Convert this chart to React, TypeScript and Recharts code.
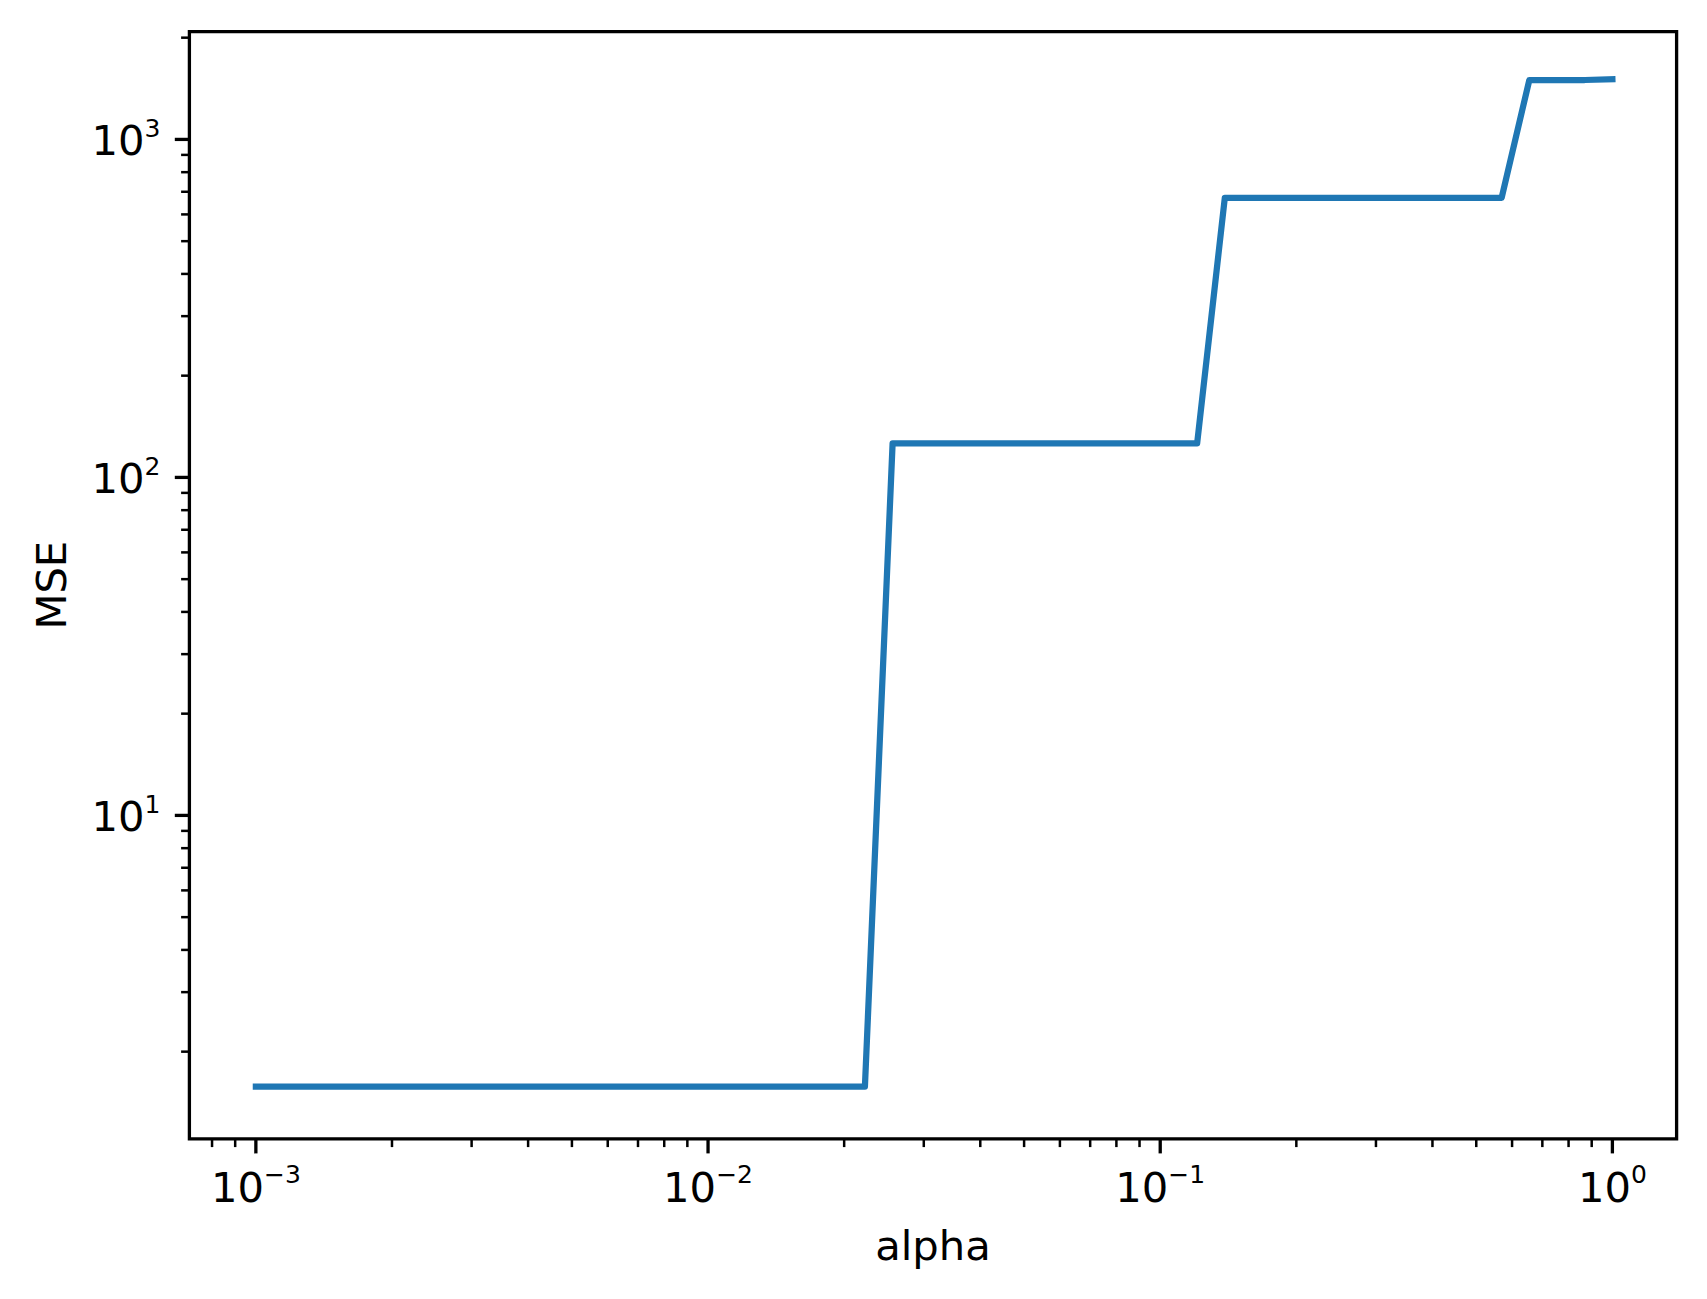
import React from 'react';
import { LineChart, Line, XAxis, YAxis, ReferenceArea } from 'recharts';

// alpha values (np.logspace(-3, 0, 50))
const alphas: number[] = [
  0.001, 0.0011514, 0.00132571, 0.00152642, 0.00175751, 0.00202359, 0.00232995, 0.0026827,
  0.00308884, 0.00355648, 0.00409492, 0.00471487, 0.00542868, 0.00625055, 0.00719686,
  0.00828643, 0.00954095, 0.01098541, 0.01264855, 0.01456348, 0.01676833, 0.01930698,
  0.02222996, 0.02559548, 0.02947052, 0.03393222, 0.0390694, 0.04498433, 0.05179475,
  0.05963623, 0.06866488, 0.07906043, 0.09102982, 0.10481131, 0.12067926, 0.13894955,
  0.15998587, 0.184207, 0.21209509, 0.24420531, 0.28117687, 0.32374575, 0.37275937,
  0.42919343, 0.49417134, 0.5689866, 0.65512856, 0.75431201, 0.86851137, 1.0,
];

// MSE
const mse: number[] = [
  1.575, 1.575, 1.575, 1.575, 1.575, 1.575, 1.575, 1.575, 1.575, 1.575,
  1.575, 1.575, 1.575, 1.575, 1.575, 1.575, 1.575, 1.575, 1.575, 1.575,
  1.575, 1.575, 1.575, 126, 126, 126, 126, 126, 126, 126,
  126, 126, 126, 126, 126, 672, 672, 672, 672, 672,
  672, 672, 672, 672, 672, 672, 1499, 1499, 1499, 1508,
];

const xTicks: number[] = [
  0.0008, 0.0009, 0.001, 0.002, 0.003, 0.004, 0.005, 0.006, 0.007, 0.008, 0.009,
  0.01, 0.02, 0.03, 0.04, 0.05, 0.06, 0.07, 0.08, 0.09,
  0.1, 0.2, 0.3, 0.4, 0.5, 0.6, 0.7, 0.8, 0.9, 1,
];
const yTicks: number[] = [
  2, 3, 4, 5, 6, 7, 8, 9, 10, 20, 30, 40, 50, 60, 70, 80, 90,
  100, 200, 300, 400, 500, 600, 700, 800, 900, 1000, 2000,
];
const xMajor: number[] = [0.001, 0.01, 0.1, 1];
const yMajor: number[] = [10, 100, 1000];

const X_DOMAIN: [number, number] = [Math.pow(10, -3.147), Math.pow(10, 0.142)];
const Y_DOMAIN: [number, number] = [Math.pow(10, 0.0432), Math.pow(10, 3.319)];

const data = alphas.map((a, i) => ({ alpha: a, mse: mse[i] }));

const FONT = 'DejaVu Sans';
const FS = 41.7;
const SUP = 25;
const MAJOR_LEN = 14.6;
const MINOR_LEN = 8.3;

const isMajor = (v: number, majors: number[]) =>
  majors.some((m) => Math.abs(v - m) / m < 1e-6);

const expOf = (v: number) => Math.round(Math.log10(v));
const expText = (e: number) => (e < 0 ? '\u2212' + Math.abs(e) : String(e));

const XTick = (props: any) => {
  const { x, y, payload } = props;
  const v = payload.value;
  const major = isMajor(v, xMajor);
  return (
    <g>
      <line x1={x} y1={y} x2={x} y2={y + (major ? MAJOR_LEN : MINOR_LEN)} stroke="#000" strokeWidth={major ? 3.3 : 2.5} />
      {major && (
        <text x={x} y={y + 63} textAnchor="middle" fontFamily={FONT} fontSize={FS} fill="#000">
          <tspan>10</tspan>
          <tspan dy={-19} fontSize={SUP}>{expText(expOf(v))}</tspan>
        </text>
      )}
    </g>
  );
};

const YTick = (props: any) => {
  const { x, y, payload } = props;
  const v = payload.value;
  const major = isMajor(v, yMajor);
  return (
    <g>
      <line x1={x - (major ? MAJOR_LEN : MINOR_LEN)} y1={y} x2={x} y2={y} stroke="#000" strokeWidth={major ? 3.3 : 2.5} />
      {major && (
        <text x={x - 29} y={y + 15.6} textAnchor="end" fontFamily={FONT} fontSize={FS} fill="#000">
          <tspan>10</tspan>
          <tspan dy={-18} fontSize={SUP}>{expText(expOf(v))}</tspan>
        </text>
      )}
    </g>
  );
};

const XLabel = (props: any) => {
  const vb = props.viewBox;
  return (
    <text x={vb.x + vb.width / 2} y={vb.y + 121} textAnchor="middle" fontFamily={FONT} fontSize={FS} fill="#000">
      alpha
    </text>
  );
};

const YLabel = (props: any) => {
  const vb = props.viewBox;
  const cy = vb.y + vb.height / 2;
  const cx = 66.5;
  return (
    <text x={cx} y={cy} transform={`rotate(-90 ${cx} ${cy})`} textAnchor="middle" fontFamily={FONT} fontSize={FS} fill="#000">
      MSE
    </text>
  );
};

export default function App() {
  return (
    <div style={{ position: 'absolute', left: 0, top: 0, width: 1707, height: 1299, background: '#fff' }}>
      <LineChart
        width={1707}
        height={1299}
        data={data}
        margin={{ top: 31.6, right: 30.4, bottom: 0, left: 0 }}
      >
        <XAxis
          dataKey="alpha"
          type="number"
          scale="log"
          domain={X_DOMAIN}
          allowDataOverflow
          ticks={xTicks}
          interval={0}
          tick={<XTick />}
          tickLine={false}
          axisLine={false}
          tickSize={0}
          tickMargin={0}
          height={160.2}
          label={<XLabel />}
        />
        <YAxis
          dataKey="mse"
          type="number"
          scale="log"
          domain={Y_DOMAIN}
          allowDataOverflow
          ticks={yTicks}
          interval={0}
          tick={<YTick />}
          tickLine={false}
          axisLine={false}
          tickSize={0}
          tickMargin={0}
          width={189.4}
          label={<YLabel />}
        />
        <Line
          dataKey="mse"
          stroke="#1f77b4"
          strokeWidth={6.25}
          strokeLinejoin="round"
          strokeLinecap="square"
          dot={false}
          activeDot={false}
          isAnimationActive={false}
          type="linear"
        />
        <ReferenceArea
          x1={X_DOMAIN[0]}
          x2={X_DOMAIN[1]}
          y1={Y_DOMAIN[0]}
          y2={Y_DOMAIN[1]}
          fill="none"
          stroke="#000"
          strokeWidth={3.3}
          ifOverflow="visible"
        />
      </LineChart>
    </div>
  );
}
